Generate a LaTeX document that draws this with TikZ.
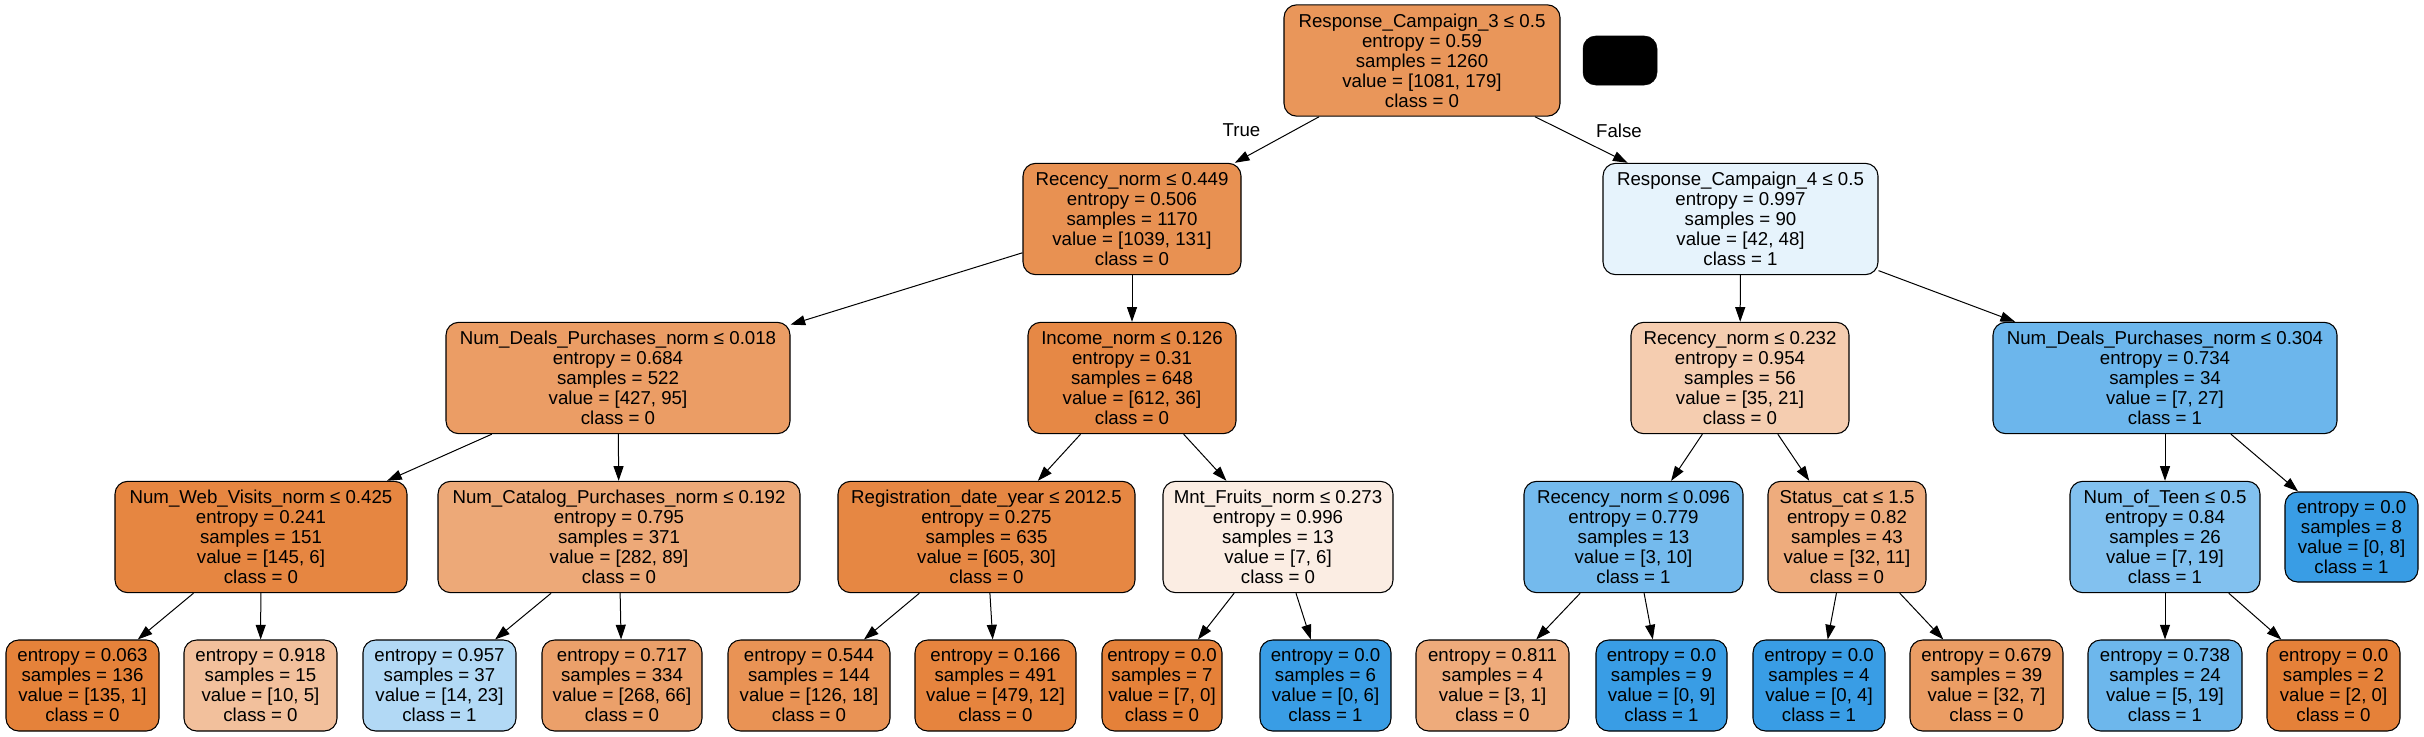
\documentclass[tikz,border=0pt]{standalone}
\usepackage{fontspec}
\setmainfont{Liberation Sans}
\usepackage{xcolor}
\usetikzlibrary{arrows.meta}

\begin{document}
\begin{tikzpicture}[x=0.75pt,y=0.75pt,yscale=-1,xscale=1,
  font=\fontsize{14}{15}\selectfont,
  testnode/.style={draw=black, line width=0.8pt, rounded corners=9.5pt, align=center, inner sep=3pt, minimum height=83.5pt},
  leafnode/.style={testnode, minimum height=68.25pt},
  pure0/.style={fill={rgb, 255:red, 229; green, 129; blue, 57 }},
  pure1/.style={fill={rgb, 255:red, 57; green, 157; blue, 229 }},
  branch/.style={line width=0.75pt, -{Triangle[length=11pt,width=7.5pt]}}
]
\useasboundingbox (0,0) rectangle (2424,736);

%Shape: Rounded Rect (root)
\node [testnode, fill={rgb, 255:red, 233; green, 150; blue, 90 }, minimum width=207pt] (resp3) at (1422,60.5) {Response\_Campaign\_3 ≤ 0.5\\entropy = 0.59\\samples = 1260\\value = [1081, 179]\\class = 0};
%Shape: Rounded Rect (blank)
\node [draw=black, fill=black, rounded corners=9.5pt, inner sep=0pt, minimum width=55.5pt, minimum height=36.75pt] (blank) at (1620,60.5) {};

%Shape: Rounded Rect (depth 1)
\node [testnode, fill={rgb, 255:red, 232; green, 145; blue, 82 }, minimum width=163.5pt] (rec449) at (1132,219) {Recency\_norm ≤ 0.449\\entropy = 0.506\\samples = 1170\\value = [1039, 131]\\class = 0};
\node [testnode, fill={rgb, 255:red, 230; green, 243; blue, 252 }, minimum width=206.25pt] (resp4) at (1740.5,219) {Response\_Campaign\_4 ≤ 0.5\\entropy = 0.997\\samples = 90\\value = [42, 48]\\class = 1};

%Shape: Rounded Rect (depth 2)
\node [testnode, fill={rgb, 255:red, 235; green, 157; blue, 101 }, minimum width=258pt] (deals018) at (618,378) {Num\_Deals\_Purchases\_norm ≤ 0.018\\entropy = 0.684\\samples = 522\\value = [427, 95]\\class = 0};
\node [testnode, fill={rgb, 255:red, 230; green, 136; blue, 69 }, minimum width=156pt] (income) at (1132,378) {Income\_norm ≤ 0.126\\entropy = 0.31\\samples = 648\\value = [612, 36]\\class = 0};
\node [testnode, fill={rgb, 255:red, 245; green, 205; blue, 176 }, minimum width=163.5pt] (rec232) at (1740,378) {Recency\_norm ≤ 0.232\\entropy = 0.954\\samples = 56\\value = [35, 21]\\class = 0};
\node [testnode, fill={rgb, 255:red, 108; green, 182; blue, 236 }, minimum width=258pt] (deals304) at (2165,378) {Num\_Deals\_Purchases\_norm ≤ 0.304\\entropy = 0.734\\samples = 34\\value = [7, 27]\\class = 1};

%Shape: Rounded Rect (depth 3)
\node [testnode, fill={rgb, 255:red, 230; green, 134; blue, 65 }, minimum width=219pt] (web) at (261,537) {Num\_Web\_Visits\_norm ≤ 0.425\\entropy = 0.241\\samples = 151\\value = [145, 6]\\class = 0};
\node [testnode, fill={rgb, 255:red, 237; green, 169; blue, 120 }, minimum width=271.5pt] (catalog) at (619,537) {Num\_Catalog\_Purchases\_norm ≤ 0.192\\entropy = 0.795\\samples = 371\\value = [282, 89]\\class = 0};
\node [testnode, fill={rgb, 255:red, 230; green, 135; blue, 67 }, minimum width=222.75pt] (regdate) at (986.5,537) {Registration\_date\_year ≤ 2012.5\\entropy = 0.275\\samples = 635\\value = [605, 30]\\class = 0};
\node [testnode, fill={rgb, 255:red, 251; green, 237; blue, 227 }, minimum width=172.5pt] (fruits) at (1278,537) {Mnt\_Fruits\_norm ≤ 0.273\\entropy = 0.996\\samples = 13\\value = [7, 6]\\class = 0};
\node [testnode, fill={rgb, 255:red, 116; green, 186; blue, 237 }, minimum width=164.25pt] (rec096) at (1633.5,537) {Recency\_norm ≤ 0.096\\entropy = 0.779\\samples = 13\\value = [3, 10]\\class = 1};
\node [testnode, fill={rgb, 255:red, 238; green, 172; blue, 125 }, minimum width=118.5pt] (status) at (1847,537) {Status\_cat ≤ 1.5\\entropy = 0.82\\samples = 43\\value = [32, 11]\\class = 0};
\node [testnode, fill={rgb, 255:red, 130; green, 193; blue, 239 }, minimum width=142.5pt] (teen) at (2165,537) {Num\_of\_Teen ≤ 0.5\\entropy = 0.84\\samples = 26\\value = [7, 19]\\class = 1};
\node [leafnode, pure1, minimum width=99.75pt, minimum height=67.5pt] (leafA) at (2351.5,537) {entropy = 0.0\\samples = 8\\value = [0, 8]\\class = 1};

%Shape: Rounded Rect (leaves)
\node [leafnode, fill={rgb, 255:red, 229; green, 130; blue, 58 }, minimum width=114.75pt] (leaf1) at (82.5,685.5) {entropy = 0.063\\samples = 136\\value = [135, 1]\\class = 0};
\node [leafnode, fill={rgb, 255:red, 242; green, 192; blue, 156 }, minimum width=114.75pt] (leaf2) at (260.5,685.5) {entropy = 0.918\\samples = 15\\value = [10, 5]\\class = 0};
\node [leafnode, fill={rgb, 255:red, 178; green, 217; blue, 245 }, minimum width=114.75pt] (leaf3) at (439.5,685.5) {entropy = 0.957\\samples = 37\\value = [14, 23]\\class = 1};
\node [leafnode, fill={rgb, 255:red, 235; green, 160; blue, 106 }, minimum width=120pt] (leaf4) at (622,685.5) {entropy = 0.717\\samples = 334\\value = [268, 66]\\class = 0};
\node [leafnode, fill={rgb, 255:red, 233; green, 147; blue, 85 }, minimum width=121.5pt] (leaf5) at (809,685.5) {entropy = 0.544\\samples = 144\\value = [126, 18]\\class = 0};
\node [leafnode, fill={rgb, 255:red, 230; green, 132; blue, 62 }, minimum width=120.75pt] (leaf6) at (995.5,685.5) {entropy = 0.166\\samples = 491\\value = [479, 12]\\class = 0};
\node [leafnode, pure0, minimum width=90pt] (leaf7) at (1162,685.5) {entropy = 0.0\\samples = 7\\value = [7, 0]\\class = 0};
\node [leafnode, pure1, minimum width=98.25pt] (leaf8) at (1325.5,685.5) {entropy = 0.0\\samples = 6\\value = [0, 6]\\class = 1};
\node [leafnode, fill={rgb, 255:red, 238; green, 171; blue, 123 }, minimum width=114.75pt] (leaf9) at (1492.5,685.5) {entropy = 0.811\\samples = 4\\value = [3, 1]\\class = 0};
\node [leafnode, pure1, minimum width=98.25pt] (leaf10) at (1661.5,685.5) {entropy = 0.0\\samples = 9\\value = [0, 9]\\class = 1};
\node [leafnode, pure1, minimum width=99pt] (leaf11) at (1819,685.5) {entropy = 0.0\\samples = 4\\value = [0, 4]\\class = 1};
\node [leafnode, fill={rgb, 255:red, 235; green, 157; blue, 100 }, minimum width=114.75pt] (leaf12) at (1986.5,685.5) {entropy = 0.679\\samples = 39\\value = [32, 7]\\class = 0};
\node [leafnode, fill={rgb, 255:red, 109; green, 183; blue, 236 }, minimum width=115.5pt] (leaf13) at (2165,685.5) {entropy = 0.738\\samples = 24\\value = [5, 19]\\class = 1};
\node [leafnode, pure0, minimum width=99.75pt] (leaf14) at (2333.5,685.5) {entropy = 0.0\\samples = 2\\value = [2, 0]\\class = 0};

%Straight Lines
\draw [branch] (resp3) -- (rec449);
\draw [branch] (resp3) -- (resp4);
\draw [branch] (rec449) -- (deals018);
\draw [branch] (rec449) -- (income);
\draw [branch] (resp4) -- (rec232);
\draw [branch] (resp4) -- (deals304);
\draw [branch] (deals018) -- (web);
\draw [branch] (deals018) -- (catalog);
\draw [branch] (income) -- (regdate);
\draw [branch] (income) -- (fruits);
\draw [branch] (rec232) -- (rec096);
\draw [branch] (rec232) -- (status);
\draw [branch] (deals304) -- (teen);
\draw [branch] (deals304) -- (leafA);
\draw [branch] (web) -- (leaf1);
\draw [branch] (web) -- (leaf2);
\draw [branch] (catalog) -- (leaf3);
\draw [branch] (catalog) -- (leaf4);
\draw [branch] (regdate) -- (leaf5);
\draw [branch] (regdate) -- (leaf6);
\draw [branch] (fruits) -- (leaf7);
\draw [branch] (fruits) -- (leaf8);
\draw [branch] (rec096) -- (leaf9);
\draw [branch] (rec096) -- (leaf10);
\draw [branch] (status) -- (leaf11);
\draw [branch] (status) -- (leaf12);
\draw [branch] (teen) -- (leaf13);
\draw [branch] (teen) -- (leaf14);

% Text Node
\node (truelbl) at (1241.5,130.5) {True};
% Text Node
\node (falselbl) at (1619,130.5) {False};

\end{tikzpicture}
\end{document}
